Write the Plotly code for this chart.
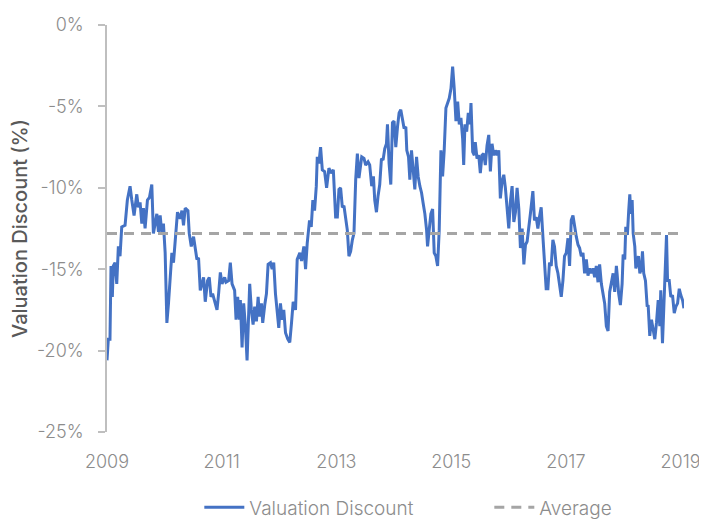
import plotly.graph_objects as go

# Decimal years of the sampled observations
years = [
    2009.000, 2009.023, 2009.052, 2009.070, 2009.093, 2009.110, 2009.140, 2009.170, 2009.198, 2009.227,
    2009.257, 2009.315, 2009.355, 2009.402, 2009.432, 2009.472, 2009.519, 2009.547, 2009.577, 2009.607,
    2009.635, 2009.664, 2009.705, 2009.740, 2009.781, 2009.809, 2009.839, 2009.869, 2009.897, 2009.927,
    2009.956, 2009.984, 2010.014, 2010.044, 2010.072, 2010.101, 2010.131, 2010.159, 2010.189, 2010.229,
    2010.276, 2010.306, 2010.334, 2010.364, 2010.411, 2010.434,
    2010.469, 2010.509, 2010.538, 2010.568, 2010.596, 2010.626, 2010.656, 2010.684, 2010.713, 2010.753,
    2010.783, 2010.813, 2010.841, 2010.876, 2010.918, 2010.946, 2010.976, 2011.005, 2011.051, 2011.075,
    2011.121, 2011.150, 2011.180, 2011.225, 2011.250, 2011.278, 2011.308, 2011.325, 2011.355, 2011.383,
    2011.413, 2011.442, 2011.470, 2011.488, 2011.517, 2011.547, 2011.575, 2011.605, 2011.635, 2011.657,
    2011.692, 2011.715, 2011.750, 2011.780, 2011.809, 2011.850, 2011.879, 2011.907, 2011.937,
    2011.955, 2011.995, 2012.024, 2012.054, 2012.082, 2012.112, 2012.152, 2012.187, 2012.217, 2012.246,
    2012.287, 2012.316, 2012.362, 2012.392, 2012.432, 2012.462, 2012.491, 2012.531, 2012.561, 2012.589,
    2012.619, 2012.649, 2012.666, 2012.694, 2012.724, 2012.754, 2012.794, 2012.829, 2012.869, 2012.911,
    2012.946, 2012.986, 2013.016, 2013.044, 2013.073, 2013.103, 2013.131, 2013.161, 2013.190, 2013.218,
    2013.248, 2013.278, 2013.306, 2013.336, 2013.365, 2013.393, 2013.423,
    2013.441, 2013.481, 2013.510, 2013.551, 2013.580, 2013.615, 2013.645, 2013.668, 2013.698, 2013.726,
    2013.755, 2013.785, 2013.813, 2013.843, 2013.872, 2013.890, 2013.918, 2013.948, 2013.977, 2014.005,
    2014.035, 2014.065, 2014.093, 2014.122, 2014.152, 2014.180, 2014.210, 2014.227, 2014.257, 2014.280,
    2014.309, 2014.337, 2014.367, 2014.397, 2014.425, 2014.455, 2014.484, 2014.512, 2014.542, 2014.572,
    2014.589, 2014.617, 2014.647, 2014.677, 2014.705, 2014.734, 2014.764, 2014.792, 2014.822, 2014.851,
    2014.879,
    2014.909, 2014.939, 2014.967, 2014.997, 2015.026, 2015.054, 2015.084, 2015.114, 2015.142, 2015.171,
    2015.201, 2015.219, 2015.241, 2015.271, 2015.299, 2015.329, 2015.346, 2015.376, 2015.404, 2015.421,
    2015.451, 2015.481, 2015.509, 2015.538, 2015.568, 2015.596, 2015.626, 2015.656, 2015.684, 2015.713,
    2015.743, 2015.771, 2015.801, 2015.830, 2015.858, 2015.888, 2015.918, 2015.946, 2015.976, 2016.005,
    2016.033, 2016.063, 2016.093, 2016.121, 2016.150, 2016.180, 2016.208, 2016.238, 2016.268, 2016.296,
    2016.325, 2016.355, 2016.385,
    2016.425, 2016.453, 2016.483, 2016.512, 2016.540, 2016.570, 2016.600, 2016.628, 2016.657, 2016.687,
    2016.715, 2016.745, 2016.774, 2016.802, 2016.832, 2016.862, 2016.890, 2016.920, 2016.949, 2016.977,
    2017.007, 2017.037, 2017.065, 2017.094, 2017.124, 2017.152, 2017.182, 2017.212, 2017.240, 2017.269,
    2017.299, 2017.327, 2017.357, 2017.386, 2017.414, 2017.444, 2017.474, 2017.502, 2017.531, 2017.561,
    2017.589, 2017.619, 2017.649, 2017.677, 2017.706, 2017.736, 2017.764, 2017.794, 2017.824, 2017.852,
    2017.881,
    2017.893, 2017.921, 2017.951, 2017.981, 2017.999, 2018.027, 2018.045, 2018.073, 2018.096, 2018.115,
    2018.132, 2018.156, 2018.174, 2018.202, 2018.220, 2018.245, 2018.266, 2018.290, 2018.318, 2018.336,
    2018.358, 2018.388, 2018.418, 2018.435, 2018.463, 2018.493, 2018.523, 2018.551, 2018.580, 2018.610,
    2018.638, 2018.655, 2018.685, 2018.708, 2018.738, 2018.755, 2018.773, 2018.802, 2018.830, 2018.860,
    2018.890, 2018.918, 2018.948, 2018.977, 2019.005, 2019.035, 2019.058,
]

# Valuation discount (%)
discount = [
    -20.6, -19.3, -19.3, -14.8, -16.7, -14.8, -14.6, -15.9, -13.6, -14.2,
    -12.4, -12.3, -10.75, -9.9, -10.75, -11.7, -10.4, -11.2, -10.9, -12.2,
    -11.25, -12.5, -10.75, -10.6, -9.8, -12.8, -12.2, -11.6, -12.7, -11.7,
    -12.8, -12.2, -14.0, -18.3, -17.1, -15.3, -14.0, -14.6, -13.2, -11.5,
    -11.9, -11.4, -12.3, -11.25, -11.4, -12.8,
    -13.6, -13.0, -13.7, -14.4, -14.3, -16.3, -15.9, -15.5, -17.0, -15.7,
    -15.5, -16.7, -16.5, -16.9, -17.5, -16.5, -15.2, -15.9, -15.5, -15.8,
    -15.7, -14.6, -15.9, -16.3, -18.1, -16.7, -18.1, -16.9, -19.8, -17.1,
    -18.5, -20.6, -17.9, -15.9, -17.5, -18.4, -17.3, -18.2, -16.7, -17.9,
    -17.1, -18.3, -17.2, -16.5, -14.7, -14.6, -15.0, -14.6, -16.5,
    -17.3, -18.6, -17.1, -18.1, -17.5, -18.9, -19.3, -19.5, -18.3, -17.0,
    -17.5, -14.4, -14.0, -14.5, -13.6, -15.0, -13.4, -12.0, -12.4, -10.75,
    -11.4, -9.9, -8.1, -8.5, -7.5, -8.9, -9.0, -10.0, -8.8, -9.1,
    -8.9, -11.8, -11.8, -10.1, -10.0, -11.2, -11.1, -12.0, -12.6, -14.2,
    -13.9, -13.2, -12.8, -9.5, -7.9, -9.4, -8.7,
    -8.1, -8.2, -8.6, -8.4, -8.6, -9.9, -9.3, -10.75, -11.5, -10.5,
    -9.8, -8.2, -8.3, -7.6, -7.3, -6.1, -8.5, -9.8, -6.0, -5.9,
    -7.5, -6.25, -5.4, -5.2, -5.7, -6.35, -6.25, -7.7, -8.1, -9.5,
    -7.7, -9.1, -10.1, -8.1, -9.3, -9.9, -10.3, -10.95, -11.6, -12.6,
    -13.6, -12.6, -11.6, -11.3, -14.0, -14.2, -14.8, -12.6, -7.7, -9.3,
    -7.7,
    -5.1, -4.8, -4.5, -3.9, -2.56, -3.9, -5.9, -4.7, -6.1, -5.7,
    -7.0, -8.6, -6.1, -6.55, -5.4, -6.1, -4.8, -7.8, -8.0, -7.2,
    -8.2, -8.0, -9.1, -8.0, -7.9, -8.6, -7.4, -6.75, -9.0, -7.3,
    -8.0, -7.7, -8.0, -7.7, -10.65, -9.6, -9.2, -10.0, -11.3, -12.5,
    -10.85, -9.9, -12.1, -11.5, -10.0, -11.3, -13.7, -12.5, -14.7, -13.5,
    -13.3, -12.5, -11.5,
    -10.2, -12.0, -11.8, -12.5, -11.8, -11.2, -13.0, -14.8, -16.2, -16.2,
    -14.6, -14.8, -13.2, -13.6, -14.8, -15.25, -15.9, -16.7, -15.7, -14.2,
    -14.0, -13.1, -14.8, -12.0, -11.7, -12.4, -13.0, -13.5, -13.7, -14.2,
    -14.0, -15.25, -14.4, -15.4, -14.95, -15.25, -14.95, -15.5, -14.8, -15.8,
    -14.7, -15.9, -16.5, -17.1, -18.5, -18.8, -16.4, -15.7, -15.25, -16.4,
    -14.8,
    -15.25, -16.5, -17.2, -15.9, -14.1, -14.4, -12.4, -12.9, -11.4, -10.4,
    -11.6, -10.75, -12.8, -13.6, -14.95, -14.4, -14.2, -15.25, -14.95, -13.9,
    -15.25, -15.7, -17.3, -17.2, -19.1, -18.1, -18.9, -19.3, -18.3, -16.9,
    -18.5, -16.3, -19.55, -17.3, -14.6, -12.9, -15.7, -15.7, -16.7, -16.6,
    -17.7, -17.3, -17.1, -16.2, -16.6, -16.9, -17.4,
]

average_value = -12.8

x_ticks = [2009, 2011, 2013, 2015, 2017, 2019]
x_tick_labels = ["2009", "2011", "2013", "2015", "2017", "2019"]
y_ticks = [0, -5, -10, -15, -20, -25]
y_tick_labels = ["0%", "-5%", "-10%", "-15%", "-20%", "-25%"]

FONT_FAMILY = "Inter, Roboto, Liberation Sans, Arial, sans-serif"
TICK_FONT = dict(family=FONT_FAMILY, size=18, color="#8c8c8c", weight=300)

fig = go.Figure()
fig.add_trace(go.Scatter(
    x=years, y=discount, mode="lines", name="Valuation Discount",
    line=dict(color="#4472C4", width=3),
))
fig.add_trace(go.Scatter(
    x=years, y=[average_value] * len(years), mode="lines", name="Average",
    line=dict(color="#A5A5A5", width=3, dash="10px,7px"),
))

fig.update_layout(
    width=699, height=511,
    margin=dict(l=99, r=23, t=17, b=87, autoexpand=False),
    paper_bgcolor="white", plot_bgcolor="white",
    showlegend=True,
    legend=dict(
        orientation="h", x=0.16, xanchor="left", y=-0.232, yanchor="bottom",
        font=dict(family=FONT_FAMILY, size=19, color="#8c8c8c", weight=300),
        itemwidth=40, tracegroupgap=0, entrywidth=235,
    ),
    xaxis=dict(
        range=[2009, 2019.06], tickvals=x_ticks, ticktext=x_tick_labels,
        showgrid=False, zeroline=False, showline=False, ticks="",
        tickfont=TICK_FONT, ticklabelstandoff=17, automargin=False,
    ),
    yaxis=dict(
        range=[-25, 0], tickvals=y_ticks, ticktext=y_tick_labels,
        showgrid=False, zeroline=False, showline=True, linecolor="#BFBFBF", linewidth=1.5,
        ticks="outside", ticklen=7, tickcolor="#BFBFBF", tickwidth=1.5,
        tickfont=TICK_FONT, ticklabelstandoff=11, automargin=False,
        title=dict(text="Valuation Discount (%)", standoff=14,
                   font=dict(family=FONT_FAMILY, size=20, color="#595959", weight=500)),
    ),
)

fig.write_html("out.html")
